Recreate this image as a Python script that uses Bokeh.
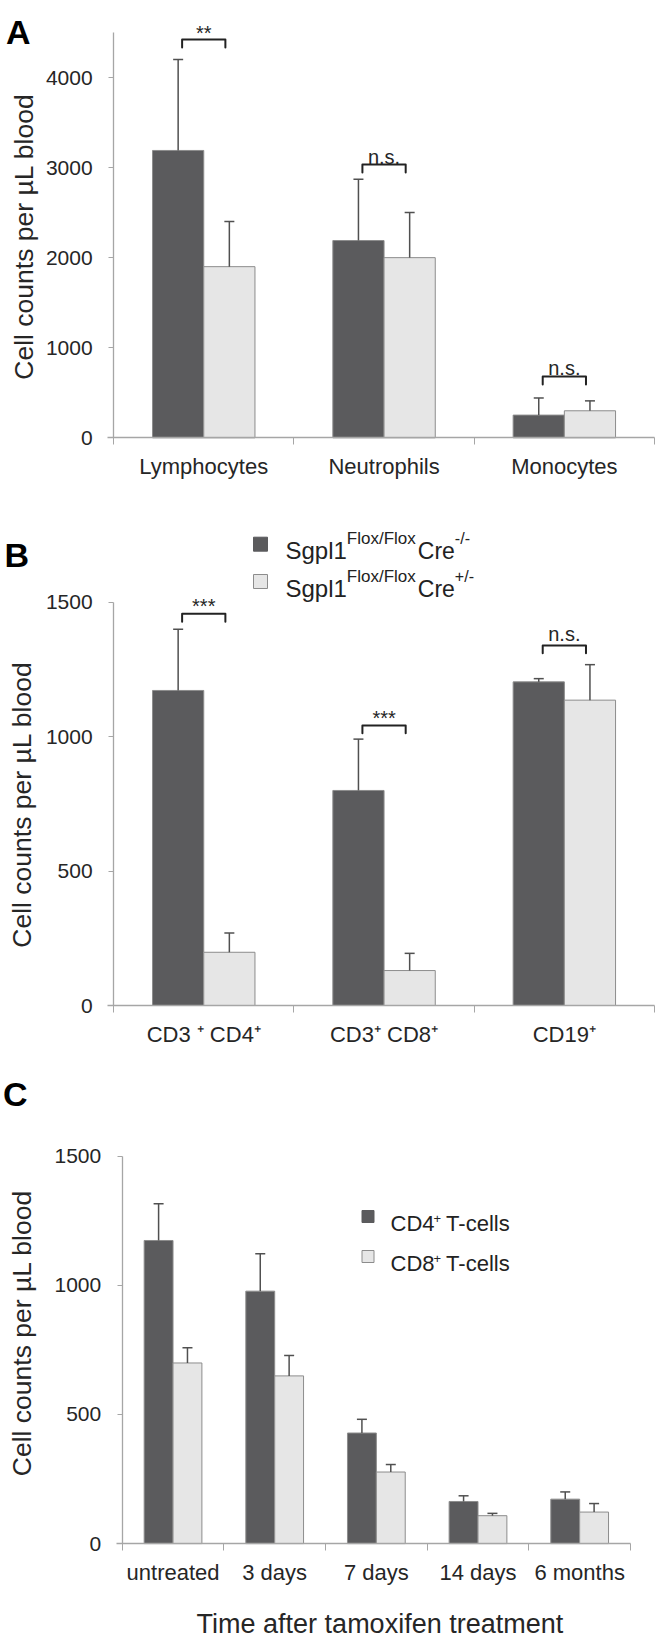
import math
from bokeh.plotting import figure
from bokeh.models import ColumnDataSource, FixedTicker, Whisker, TeeHead, Label, Range1d
from bokeh.layouts import column
from bokeh.embed import file_html
from bokeh.resources import INLINE
from bokeh.core.properties import value

# ---------------- data ----------------
a_cats = ["Lymphocytes", "Neutrophils", "Monocytes"]
a_neg = [3190, 2190, 252]
a_neg_err = [1010, 680, 190]
a_pos = [1900, 2000, 300]
a_pos_err = [500, 500, 110]
a_sig = ["**", "n.s.", "n.s."]
a_sig_bracket = [4422, 3033, 680]
a_sig_text = [4497, 3114, 771]

b_cats = ["CD3 \u207a CD4\u207a", "CD3\u207a CD8\u207a", "CD19\u207a"]
b_neg = [1172, 800, 1204]
b_neg_err = [228, 191, 12]
b_pos = [198, 130, 1136]
b_pos_err = [72, 64, 132]
b_sig = ["***", "***", "n.s."]
b_sig_bracket = [1457, 1042, 1339]
b_sig_text = [1488, 1071, 1381]

c_cats = ["untreated", "3 days", "7 days", "14 days", "6 months"]
c_cd4 = [1173, 977, 428, 163, 172]
c_cd4_err = [142, 145, 53, 22, 28]
c_cd8 = [699, 649, 277, 108, 122]
c_cd8_err = [59, 79, 29, 9, 33]

a_yticks = [0, 1000, 2000, 3000, 4000]
bc_yticks = [0, 500, 1000, 1500]

y_title = "Cell counts per \u00b5L blood"
x_title_c = "Time after tamoxifen treatment"

# ---------------- style ----------------
FONT = "Liberation Sans"
DARK = "#5b5b5d"
LIGHT = "#e6e6e6"
EDGE = "#8c8c8c"
AXIS = "#a6a6a6"
TXT = "#262626"
ERR = "#505050"
BW = 0.284
WIDTH = 662

# Arial/Liberation Sans advance widths (per 1000 em) for composed legend text
W = {' ': 278, '+': 584, '-': 333, '/': 278, '1': 556, '4': 556, '8': 556,
     'C': 722, 'D': 722, 'F': 611, 'S': 667, 'T': 611, 'c': 500, 'e': 556,
     'g': 556, 'l': 222, 'o': 556, 'p': 556, 'r': 333, 's': 500, 'x': 500}


def tw(s, size):
    return sum(W.get(ch, 556) for ch in s) / 1000.0 * size


class PixMap:
    """Pixel (page) position -> data coordinates of one panel (for annotations)."""
    def __init__(self, axis_x, ppu_x, zero_y, ppu_y, top, bottom):
        self.axis_x, self.ppu_x, self.zero_y, self.ppu_y = axis_x, ppu_x, zero_y, ppu_y
        self.top, self.bottom = top, bottom

    def x(self, px):
        return 0.5 + (px - self.axis_x) / self.ppu_x

    def y(self, py):
        return (self.zero_y - py) / self.ppu_y


def panel(m, cats, v1, e1, v2, e2, yticks, ybound):
    n = len(cats)
    p = figure(width=WIDTH, height=m.bottom - m.top,
               x_range=Range1d(m.x(0), m.x(WIDTH)),
               y_range=Range1d(m.y(m.bottom), m.y(m.top)),
               output_backend="svg", toolbar_location=None, tools="",
               min_border=0, min_border_left=0, min_border_right=0,
               min_border_top=0, min_border_bottom=0)
    p.outline_line_color = None
    p.xgrid.visible = False
    p.ygrid.visible = False

    idx = list(range(1, n + 1))
    src = ColumnDataSource(dict(
        x1=[i - BW / 2 for i in idx], x2=[i + BW / 2 for i in idx],
        v1=v1, v2=v2,
        u1=[a + b for a, b in zip(v1, e1)], u2=[a + b for a, b in zip(v2, e2)]))
    for xs, vs, us, col in (("x1", "v1", "u1", DARK), ("x2", "v2", "u2", LIGHT)):
        p.add_layout(Whisker(source=src, base=xs, upper=us, lower=vs,
                             line_color=ERR, line_width=1.5,
                             upper_head=TeeHead(size=10, line_color=ERR, line_width=1.5),
                             lower_head=None, level="glyph"))
        p.vbar(x=xs, top=vs, bottom=0, width=BW, source=src,
               fill_color=col, line_color=EDGE, line_width=1)

    # x axis drawn at y = 0: labels at centres, ticks at category boundaries
    xa = p.xaxis[0]
    xa.fixed_location = 0
    xa.bounds = (0.5 - 6.0 / m.ppu_x, n + 0.5)
    xa.ticker = FixedTicker(ticks=idx, minor_ticks=[i + 0.5 for i in range(0, n + 1)])
    xa.major_label_overrides = {i: c for i, c in zip(idx, cats)}
    xa.major_tick_out = 0
    xa.major_tick_in = 0
    xa.major_tick_line_color = None
    xa.minor_tick_out = 7
    xa.minor_tick_in = 0
    xa.minor_tick_line_color = AXIS
    xa.axis_line_color = AXIS
    xa.axis_line_width = 1.3
    xa.major_label_standoff = 9
    xa.major_label_text_font = FONT
    xa.major_label_text_font_size = "22px"
    xa.major_label_text_color = TXT

    # y axis drawn at the first category boundary
    ya = p.yaxis[0]
    ya.fixed_location = 0.5
    ya.ticker = FixedTicker(ticks=yticks)
    ya.bounds = (0, ybound)
    ya.major_tick_out = 5
    ya.major_tick_in = 0
    ya.major_tick_line_color = AXIS
    ya.minor_tick_line_color = None
    ya.axis_line_color = AXIS
    ya.axis_line_width = 1.3
    ya.major_label_standoff = 16
    ya.major_label_text_font = FONT
    ya.major_label_text_font_size = "21px"
    ya.major_label_text_color = TXT
    return p


def significance(p, n, labels, bracket_y, text_y, leg, half=0.12):
    idx = list(range(1, n + 1))
    xs = [[i - half, i - half, i + half, i + half] for i in idx]
    ys = [[b - leg, b, b, b - leg] for b in bracket_y]
    p.multi_line(xs=xs, ys=ys, line_color="#222222", line_width=2,
                 line_join="round", line_cap="round")
    p.text(x=idx, y=text_y, text=labels, text_align="center",
           text_baseline="alphabetic", text_font=value(FONT),
           text_font_size="20px", text_color=TXT)


def label(p, x, y, t, size, **kw):
    opts = dict(text_font=FONT, text_font_size=size, text_color=TXT,
                text_align="left", text_baseline="alphabetic")
    opts.update(kw)
    p.add_layout(Label(x=x, y=y, text=t, **opts))


def y_title_label(p, m, cx, cy, size="26.5px"):
    label(p, m.x(cx), m.y(cy), y_title, size, angle=90, angle_units="deg",
          text_align="center", text_baseline="middle")


def rich(p, m, px, py, pieces):
    off = 0.0
    for txt, size, rise, gap in pieces:
        off += gap
        label(p, m.x(px), m.y(py - rise), txt, f"{size}px",
              x_offset=off, text_color="#222222")
        off += tw(txt, size)


# ---------------- panel A ----------------
mA = PixMap(axis_x=113.1, ppu_x=180.3, zero_y=437.3, ppu_y=0.090075, top=0, bottom=505)
pA = panel(mA, a_cats, a_neg, a_neg_err, a_pos, a_pos_err, a_yticks, 4500)
significance(pA, 3, a_sig, a_sig_bracket, a_sig_text, leg=88)
label(pA, mA.x(5.5), mA.y(31.7), "A", "34px", text_font_style="bold", text_color="black")
y_title_label(pA, mA, 23.3, 236)

# ---------------- panel B ----------------
mB = PixMap(axis_x=113.1, ppu_x=180.3, zero_y=1005, ppu_y=0.2688, top=505, bottom=1055)
pB = panel(mB, b_cats, b_neg, b_neg_err, b_pos, b_pos_err, bc_yticks, 1500)
significance(pB, 3, b_sig, b_sig_bracket, b_sig_text, leg=29)
label(pB, mB.x(4), mB.y(554), "B", "34px", text_font_style="bold", text_color="black")
y_title_label(pB, mB, 21.8, 804)
pB.scatter(x=[mB.x(260), mB.x(260)], y=[mB.y(543.7), mB.y(581)], marker="square",
           size=14, fill_color=[DARK, LIGHT], line_color=["#5b5b5d", "#8c8c8c"])
rich(pB, mB, 285, 550, [("Sgpl1", 24, 0, 0), ("Flox/Flox", 17, 12.5, 0),
                        ("Cre", 23, 0, 2), ("-/-", 16, 12.5, 0)])
rich(pB, mB, 285, 588.3, [("Sgpl1", 24, 0, 0), ("Flox/Flox", 17, 12.5, 0),
                          ("Cre", 23, 0, 2), ("+/-", 16, 12.5, 0)])

# ---------------- panel C ----------------
mC = PixMap(axis_x=121.7, ppu_x=101.66, zero_y=1543.1, ppu_y=0.2584, top=1055, bottom=1638)
pC = panel(mC, c_cats, c_cd4, c_cd4_err, c_cd8, c_cd8_err, bc_yticks, 1500)
label(pC, mC.x(2.5), mC.y(1093.6), "C", "34px", text_font_style="bold", text_color="black")
y_title_label(pC, mC, 21.2, 1332.5)
label(pC, mC.x(379.4), mC.y(1623.5), x_title_c, "27px",
      text_align="center", text_baseline="middle")
pC.scatter(x=[mC.x(367.5), mC.x(367.5)], y=[mC.y(1216), mC.y(1256)], marker="square",
           size=12, fill_color=[DARK, LIGHT], line_color=["#5b5b5d", "#8c8c8c"])
rich(pC, mC, 390, 1223.3, [("CD4", 22, 0, 0), ("+", 13, 5, -1), ("T-cells", 22, 0, 5)])
rich(pC, mC, 390, 1263.3, [("CD8", 22, 0, 0), ("+", 13, 5, -1), ("T-cells", 22, 0, 5)])

layout = column(pA, pB, pC)
open("out.html", "w").write(file_html(layout, INLINE))
